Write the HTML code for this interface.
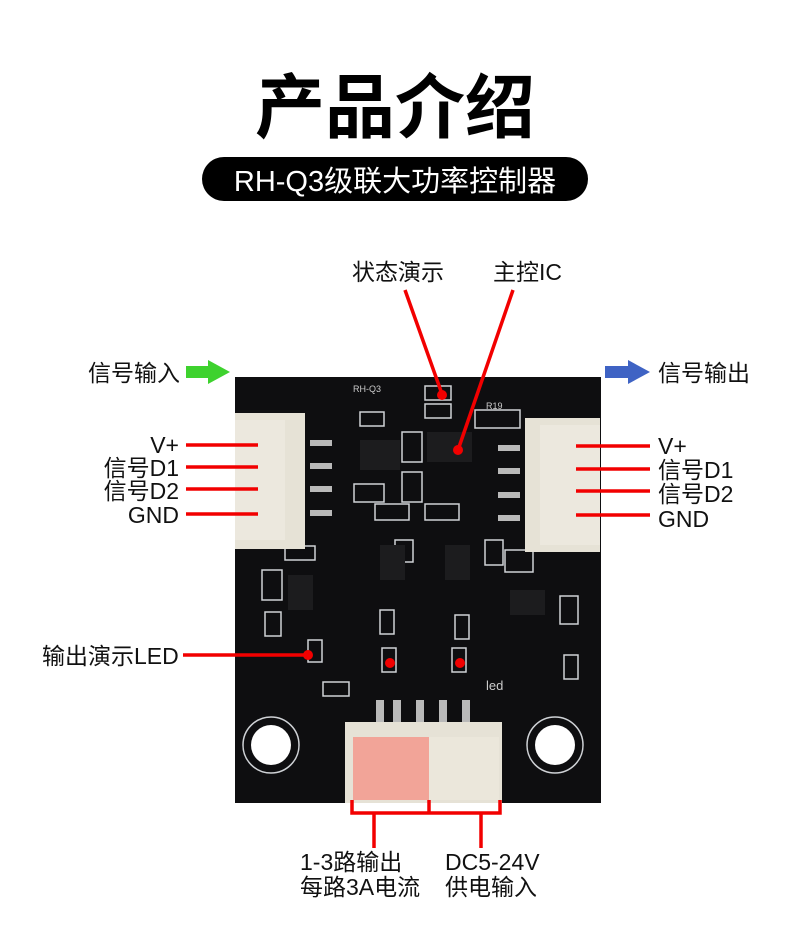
<!DOCTYPE html>
<html><head><meta charset="utf-8"><style>
html,body{margin:0;padding:0;background:#fff;}
svg{display:block;}
text{font-family:"Liberation Sans","Noto Sans CJK SC",sans-serif;}
</style></head><body>
<svg width="790" height="948" viewBox="0 0 790 948" xmlns="http://www.w3.org/2000/svg">
<rect width="790" height="948" fill="#fff"/>
<text x="395" y="132" text-anchor="middle" font-size="70" font-weight="bold" fill="#000">产品介绍</text>
<rect x="202" y="157" width="386" height="44" rx="22" fill="#000"/>
<text x="395" y="191" text-anchor="middle" font-size="29" fill="#fff">RH-Q3级联大功率控制器</text>

<!-- board -->
<rect x="235" y="377" width="366" height="426" fill="#0e0e10"/>
<g stroke="#cfd2d6" stroke-width="1.5" fill="none">
<circle cx="271" cy="745" r="28"/><circle cx="555" cy="745" r="28"/>
<rect x="360" y="412" width="24" height="14"/><rect x="425" y="386" width="26" height="14"/><rect x="425" y="404" width="26" height="14"/>
<rect x="475" y="410" width="45" height="18"/><rect x="402" y="432" width="20" height="30"/><rect x="402" y="472" width="20" height="30"/>
<rect x="354" y="484" width="30" height="18"/><rect x="375" y="504" width="34" height="16"/><rect x="425" y="504" width="34" height="16"/>
<rect x="262" y="570" width="20" height="30"/><rect x="395" y="540" width="18" height="22"/><rect x="485" y="540" width="18" height="25"/>
<rect x="560" y="596" width="18" height="28"/><rect x="265" y="612" width="16" height="24"/><rect x="308" y="640" width="14" height="22"/>
<rect x="380" y="610" width="14" height="24"/><rect x="455" y="615" width="14" height="24"/><rect x="382" y="648" width="14" height="24"/>
<rect x="452" y="648" width="14" height="24"/><rect x="564" y="655" width="14" height="24"/><rect x="323" y="682" width="26" height="14"/>
<rect x="505" y="550" width="28" height="22"/><rect x="285" y="546" width="30" height="14"/>
</g>
<circle cx="271" cy="745" r="20" fill="#fff"/><circle cx="555" cy="745" r="20" fill="#fff"/>
<g fill="#1c1c1e">
<rect x="360" y="440" width="40" height="30"/><rect x="427" y="432" width="45" height="30"/>
<rect x="380" y="545" width="25" height="35"/><rect x="445" y="545" width="25" height="35"/>
<rect x="288" y="575" width="25" height="35"/><rect x="510" y="590" width="35" height="25"/>
</g>
<g fill="#b9b9b9">
<rect x="310" y="440" width="22" height="6"/><rect x="310" y="463" width="22" height="6"/><rect x="310" y="486" width="22" height="6"/><rect x="310" y="510" width="22" height="6"/>
<rect x="498" y="445" width="22" height="6"/><rect x="498" y="468" width="22" height="6"/><rect x="498" y="492" width="22" height="6"/><rect x="498" y="515" width="22" height="6"/>
<rect x="376" y="700" width="8" height="30"/><rect x="393" y="700" width="8" height="30"/><rect x="416" y="700" width="8" height="30"/><rect x="439" y="700" width="8" height="30"/><rect x="462" y="700" width="8" height="30"/>
</g>
<text x="353" y="392" font-size="9" fill="#ccc">RH-Q3</text>
<text x="486" y="409" font-size="9" fill="#ccc">R19</text>
<text x="486" y="690" font-size="13" fill="#ccc">led</text>
<!-- connectors -->
<rect x="235" y="413" width="70" height="136" fill="#e6e2d6"/>
<rect x="235" y="420" width="50" height="120" fill="#ece8de"/>
<rect x="525" y="418" width="75" height="134" fill="#e6e2d6"/>
<rect x="540" y="425" width="60" height="120" fill="#ece8de"/>
<rect x="345" y="722" width="157" height="81" fill="#e6e2d6"/>
<rect x="353" y="737" width="76" height="63" fill="#f2a498"/>
<rect x="429" y="737" width="70" height="63" fill="#ebe7db"/>

<!-- arrows -->
<rect x="186" y="366" width="24" height="12" fill="#3ed22e"/><polygon points="208,360 230,372 208,384" fill="#3ed22e"/>
<rect x="605" y="366" width="26" height="12" fill="#3f63c4"/><polygon points="628,360 650,372 628,384" fill="#3f63c4"/>

<!-- red lines -->
<g stroke="#f20000" stroke-width="3.5" fill="none">
<line x1="186" y1="445" x2="258" y2="445"/><line x1="186" y1="467" x2="258" y2="467"/><line x1="186" y1="489" x2="258" y2="489"/><line x1="186" y1="514" x2="258" y2="514"/>
<line x1="576" y1="446" x2="650" y2="446"/><line x1="576" y1="469" x2="650" y2="469"/><line x1="576" y1="491" x2="650" y2="491"/><line x1="576" y1="515" x2="650" y2="515"/>
<line x1="405" y1="290" x2="442" y2="394"/><line x1="513" y1="290" x2="458" y2="450"/>
<line x1="183" y1="655" x2="308" y2="655"/>
<polyline points="352,800 352,813 500,813 500,800"/><line x1="429" y1="800" x2="429" y2="813"/>
<line x1="374" y1="813" x2="374" y2="848"/><line x1="481" y1="813" x2="481" y2="848"/>
</g>
<g fill="#f20000">
<circle cx="442" cy="395" r="5"/><circle cx="458" cy="450" r="5"/><circle cx="308" cy="655" r="5"/>
<circle cx="390" cy="663" r="5"/><circle cx="460" cy="663" r="5"/>
</g>

<!-- labels -->
<g font-size="23" fill="#111">
<text x="88" y="381">信号输入</text>
<text x="179" y="453" text-anchor="end">V+</text>
<text x="179" y="476" text-anchor="end">信号D1</text>
<text x="179" y="499" text-anchor="end">信号D2</text>
<text x="179" y="523" text-anchor="end">GND</text>
<text x="658" y="381">信号输出</text>
<text x="658" y="454">V+</text>
<text x="658" y="478">信号D1</text>
<text x="658" y="502">信号D2</text>
<text x="658" y="527">GND</text>
<text x="352" y="280">状态演示</text>
<text x="493" y="280">主控IC</text>
<text x="42" y="664">输出演示LED</text>
<text x="300" y="870">1-3路输出</text>
<text x="300" y="895">每路3A电流</text>
<text x="445" y="870">DC5-24V</text>
<text x="445" y="895">供电输入</text>
</g>
</svg>
</body></html>
